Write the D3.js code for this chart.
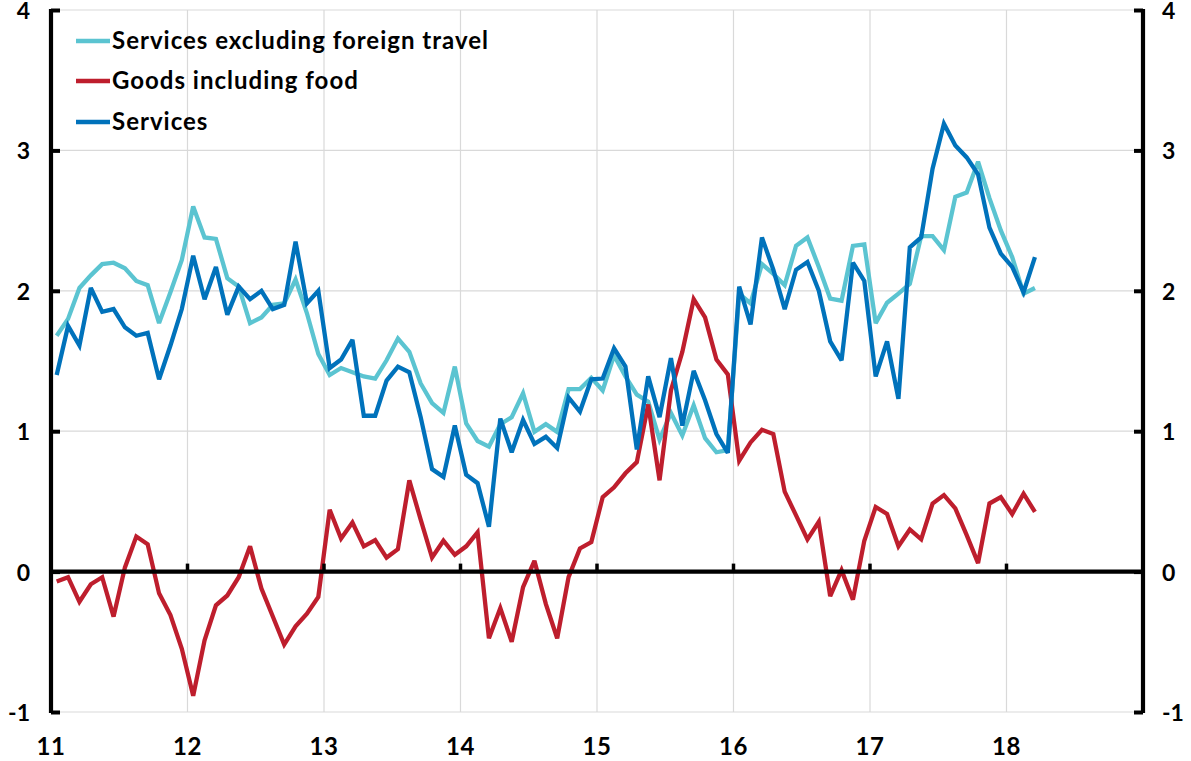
<!DOCTYPE html>
<html><head><meta charset="utf-8">
<script src="https://cdn.jsdelivr.net/npm/d3@7"></script>
<style>
html,body{margin:0;padding:0;background:#fff;}
svg text{font-family:Lato,"Open Sans",sans-serif;font-weight:bold;fill:#000;}
</style></head>
<body><svg id="c" width="1191" height="761"></svg>
<script>
// Monthly data Jan 2011 – Mar 2018 (percent)
const startYear = 2011;
const servicesExForeign = [1.68,1.80,2.02,2.11,2.19,2.20,2.16,2.07,2.04,1.77,1.99,2.22,
 2.60,2.38,2.37,2.09,2.03,1.77,1.81,1.90,1.91,2.08,1.84,1.55,
 1.40,1.45,1.42,1.39,1.375,1.505,1.66,1.565,1.34,1.20,1.13,1.46,
 1.055,0.93,0.89,1.05,1.10,1.27,0.995,1.05,0.995,1.30,1.30,1.38,
 1.29,1.54,1.39,1.26,1.21,0.94,1.13,0.97,1.185,0.95,0.85,0.865,
 1.98,1.91,2.19,2.12,2.04,2.32,2.38,2.17,1.945,1.93,2.32,2.33,
 1.77,1.915,1.98,2.05,2.39,2.39,2.29,2.67,2.70,2.92,2.66,2.43,
 2.24,1.98,2.02];
const goodsInclFood = [-0.07,-0.04,-0.215,-0.09,-0.04,-0.32,0.03,0.25,0.195,-0.155,-0.31,-0.55,
 -0.885,-0.49,-0.24,-0.17,-0.04,0.18,-0.12,-0.32,-0.52,-0.39,-0.30,-0.18,
 0.44,0.235,0.35,0.18,0.225,0.10,0.16,0.65,0.37,0.10,0.22,0.12,
 0.18,0.28,-0.475,-0.26,-0.50,-0.11,0.077,-0.23,-0.475,-0.04,0.165,0.21,
 0.53,0.60,0.70,0.78,1.19,0.65,1.29,1.565,1.94,1.81,1.51,1.405,
 0.79,0.92,1.01,0.98,0.57,0.40,0.23,0.355,-0.175,0.01,-0.20,0.22,
 0.46,0.41,0.18,0.30,0.23,0.485,0.545,0.45,0.26,0.06,0.485,0.53,
 0.41,0.555,0.425];
const services = [1.40,1.75,1.61,2.02,1.85,1.87,1.74,1.68,1.70,1.37,1.61,1.87,
 2.25,1.94,2.17,1.83,2.03,1.94,2.00,1.87,1.90,2.35,1.91,2.00,
 1.45,1.51,1.65,1.11,1.11,1.36,1.46,1.42,1.10,0.73,0.675,1.04,
 0.69,0.63,0.32,1.09,0.85,1.08,0.91,0.96,0.88,1.24,1.14,1.37,
 1.375,1.59,1.46,0.87,1.39,1.10,1.52,1.04,1.43,1.22,0.98,0.845,
 2.03,1.76,2.38,2.15,1.87,2.15,2.205,2.00,1.64,1.505,2.20,2.07,
 1.39,1.64,1.23,2.31,2.38,2.87,3.19,3.035,2.95,2.83,2.45,2.265,
 2.17,1.99,2.24];
const seriesNames = ["Services excluding foreign travel","Goods including food","Services"];
const seriesColors = ["#5bc4d1","#be1e2d","#0072bb"];
const yTicks = [-1,0,1,2,3,4];
const xTickYears = [11,12,13,14,15,16,17,18,19];
const xLabelYears = [11,12,13,14,15,16,17,18];

const svg = d3.select("#c");
const L = 51, R = 1143, T = 10, B = 712;
const x = d3.scaleLinear().domain([11,19]).range([L,R]);
const y = d3.scaleLinear().domain([-1,4]).range([B,T]);
const monthX = i => x(11 + (i + 0.5)/12);

// gridlines
const g = svg.append("g");
g.selectAll(".hg").data(yTicks.filter(v=>v!==0)).enter().append("line")
 .attr("x1",L).attr("x2",R).attr("y1",d=>y(d)).attr("y2",d=>y(d))
 .attr("stroke","#d9d9d9").attr("stroke-width",1.2);
g.selectAll(".vg").data(xTickYears.filter(v=>v>11&&v<19)).enter().append("line")
 .attr("x1",d=>x(d)).attr("x2",d=>x(d)).attr("y1",T).attr("y2",B)
 .attr("stroke","#d9d9d9").attr("stroke-width",1.2);

// lines
const line = d3.line().x((d,i)=>monthX(i)).y(d=>y(d));
[servicesExForeign, goodsInclFood, services].forEach((s,k)=>{
  svg.append("path").datum(s).attr("d",line).attr("fill","none")
   .attr("stroke",seriesColors[k]).attr("stroke-width",4.3)
   .attr("stroke-linejoin","miter").attr("stroke-miterlimit",3);
});

// zero line with ticks
svg.append("line").attr("x1",L).attr("x2",R).attr("y1",y(0)).attr("y2",y(0))
 .attr("stroke","#000").attr("stroke-width",4.2);
svg.selectAll(".xt").data(xTickYears).enter().append("line")
 .attr("x1",d=>x(d)).attr("x2",d=>x(d)).attr("y1",y(0)).attr("y2",y(0)-8)
 .attr("stroke","#000").attr("stroke-width",3.5);

// left / right axes
const leftAxis = d3.axisRight(y).tickValues(yTicks).tickSize(9).tickFormat("");
const la = svg.append("g").attr("transform",`translate(${L},0)`).call(leftAxis);
la.select(".domain").attr("stroke","#000").attr("stroke-width",4.2).attr("d",`M0,${B+1}V${T-1}`);
la.selectAll(".tick line").attr("stroke","#000").attr("stroke-width",4);
const rightAxis = d3.axisLeft(y).tickValues(yTicks).tickSize(9).tickFormat("");
const ra = svg.append("g").attr("transform",`translate(${R},0)`).call(rightAxis);
ra.select(".domain").attr("stroke","#000").attr("stroke-width",4.2).attr("d",`M0,${B+1}V${T-1}`);
ra.selectAll(".tick line").attr("stroke","#000").attr("stroke-width",4);

// y labels
svg.selectAll(".yl").data(yTicks).enter().append("text")
 .attr("x",30).attr("y",d=>y(d)+9).attr("text-anchor","end")
 .attr("font-size",23).text(d=>d);
svg.selectAll(".yr").data(yTicks).enter().append("text")
 .attr("x",1162).attr("y",d=>y(d)+9).attr("text-anchor","start")
 .attr("font-size",23).text(d=>d);
// x labels
svg.selectAll(".xl").data(xLabelYears).enter().append("text")
 .attr("x",d=>x(d)).attr("y",755).attr("text-anchor","middle")
 .attr("font-size",24).attr("letter-spacing",0.5).text(d=>d);

// legend
const legY = [41,81,122];
seriesNames.forEach((n,k)=>{
  svg.append("line").attr("x1",76).attr("x2",110).attr("y1",legY[k]).attr("y2",legY[k])
   .attr("stroke",seriesColors[k]).attr("stroke-width",4.3);
  svg.append("text").attr("x",112).attr("y",legY[k]+8).attr("font-size",24)
   .attr("letter-spacing",1).text(n);
});
</script></body></html>
